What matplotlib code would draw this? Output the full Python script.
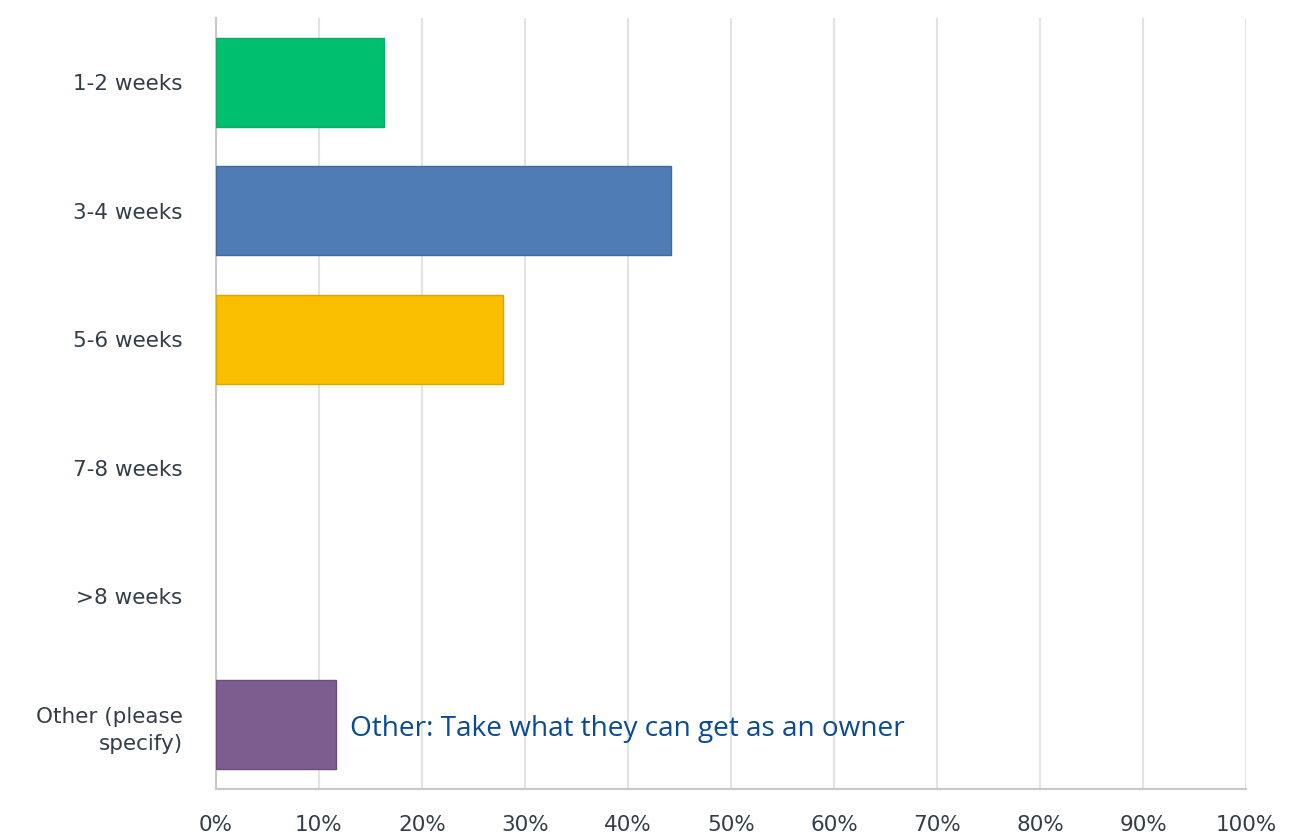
import matplotlib
matplotlib.use('Agg')
import matplotlib.pyplot as plt

# 回答データ (%)
categories = ['1-2 weeks', '3-4 weeks', '5-6 weeks', '7-8 weeks', '>8 weeks', 'Other (please\nspecify)']
values = [16.28, 44.19, 27.91, 0.0, 0.0, 11.63]
colors = ['#00bf6f', '#507cb6', '#f9be00', '#6bc8cd', '#f05b24', '#7d5d8f']
edge_colors = ['#13a865', '#45699c', '#d9a600', '#5ab0b5', '#d04c1c', '#6a4f7a']
x_ticks = list(range(0, 101, 10))
note_text = 'Other: Take what they can get as an owner'

fig = plt.figure(figsize=(12.91, 8.36), dpi=100)
ax = fig.add_axes([0.1673, 0.0562, 0.7979, 0.9223])

y = list(range(len(categories)))
# 0% のバーは枠線も描かない
edges = [ec if v > 0 else 'none' for v, ec in zip(values, edge_colors)]
ax.barh(y, values, height=0.69, color=colors, edgecolor=edges, linewidth=1, zorder=3)

ax.set_xlim(0, 100)
ax.set_ylim(5.5, -0.5)
ax.set_xticks(x_ticks)
ax.set_xticklabels([f'{t}%' for t in x_ticks])
ax.set_yticks(y)
ax.set_yticklabels(categories, linespacing=1.45)
ax.tick_params(axis='both', length=0, labelsize=15.5, labelcolor='#333e48')
ax.tick_params(axis='y', pad=24)
ax.tick_params(axis='x', pad=19)

ax.grid(axis='x', color='#e3e3e3', linewidth=1.5, zorder=0)
ax.grid(axis='y', visible=False)
for side in ['top', 'right']:
    ax.spines[side].set_visible(False)
ax.spines['left'].set_color('#c8c8c8')
ax.spines['bottom'].set_color('#c8c8c8')
ax.spines['left'].set_linewidth(1.5)
ax.spines['bottom'].set_linewidth(1.5)

ax.text(13, 5.03, note_text, fontsize=20.2, color='#0b4a94', family='Open Sans', va='center', ha='left')

fig.savefig('out.png', dpi=100)
